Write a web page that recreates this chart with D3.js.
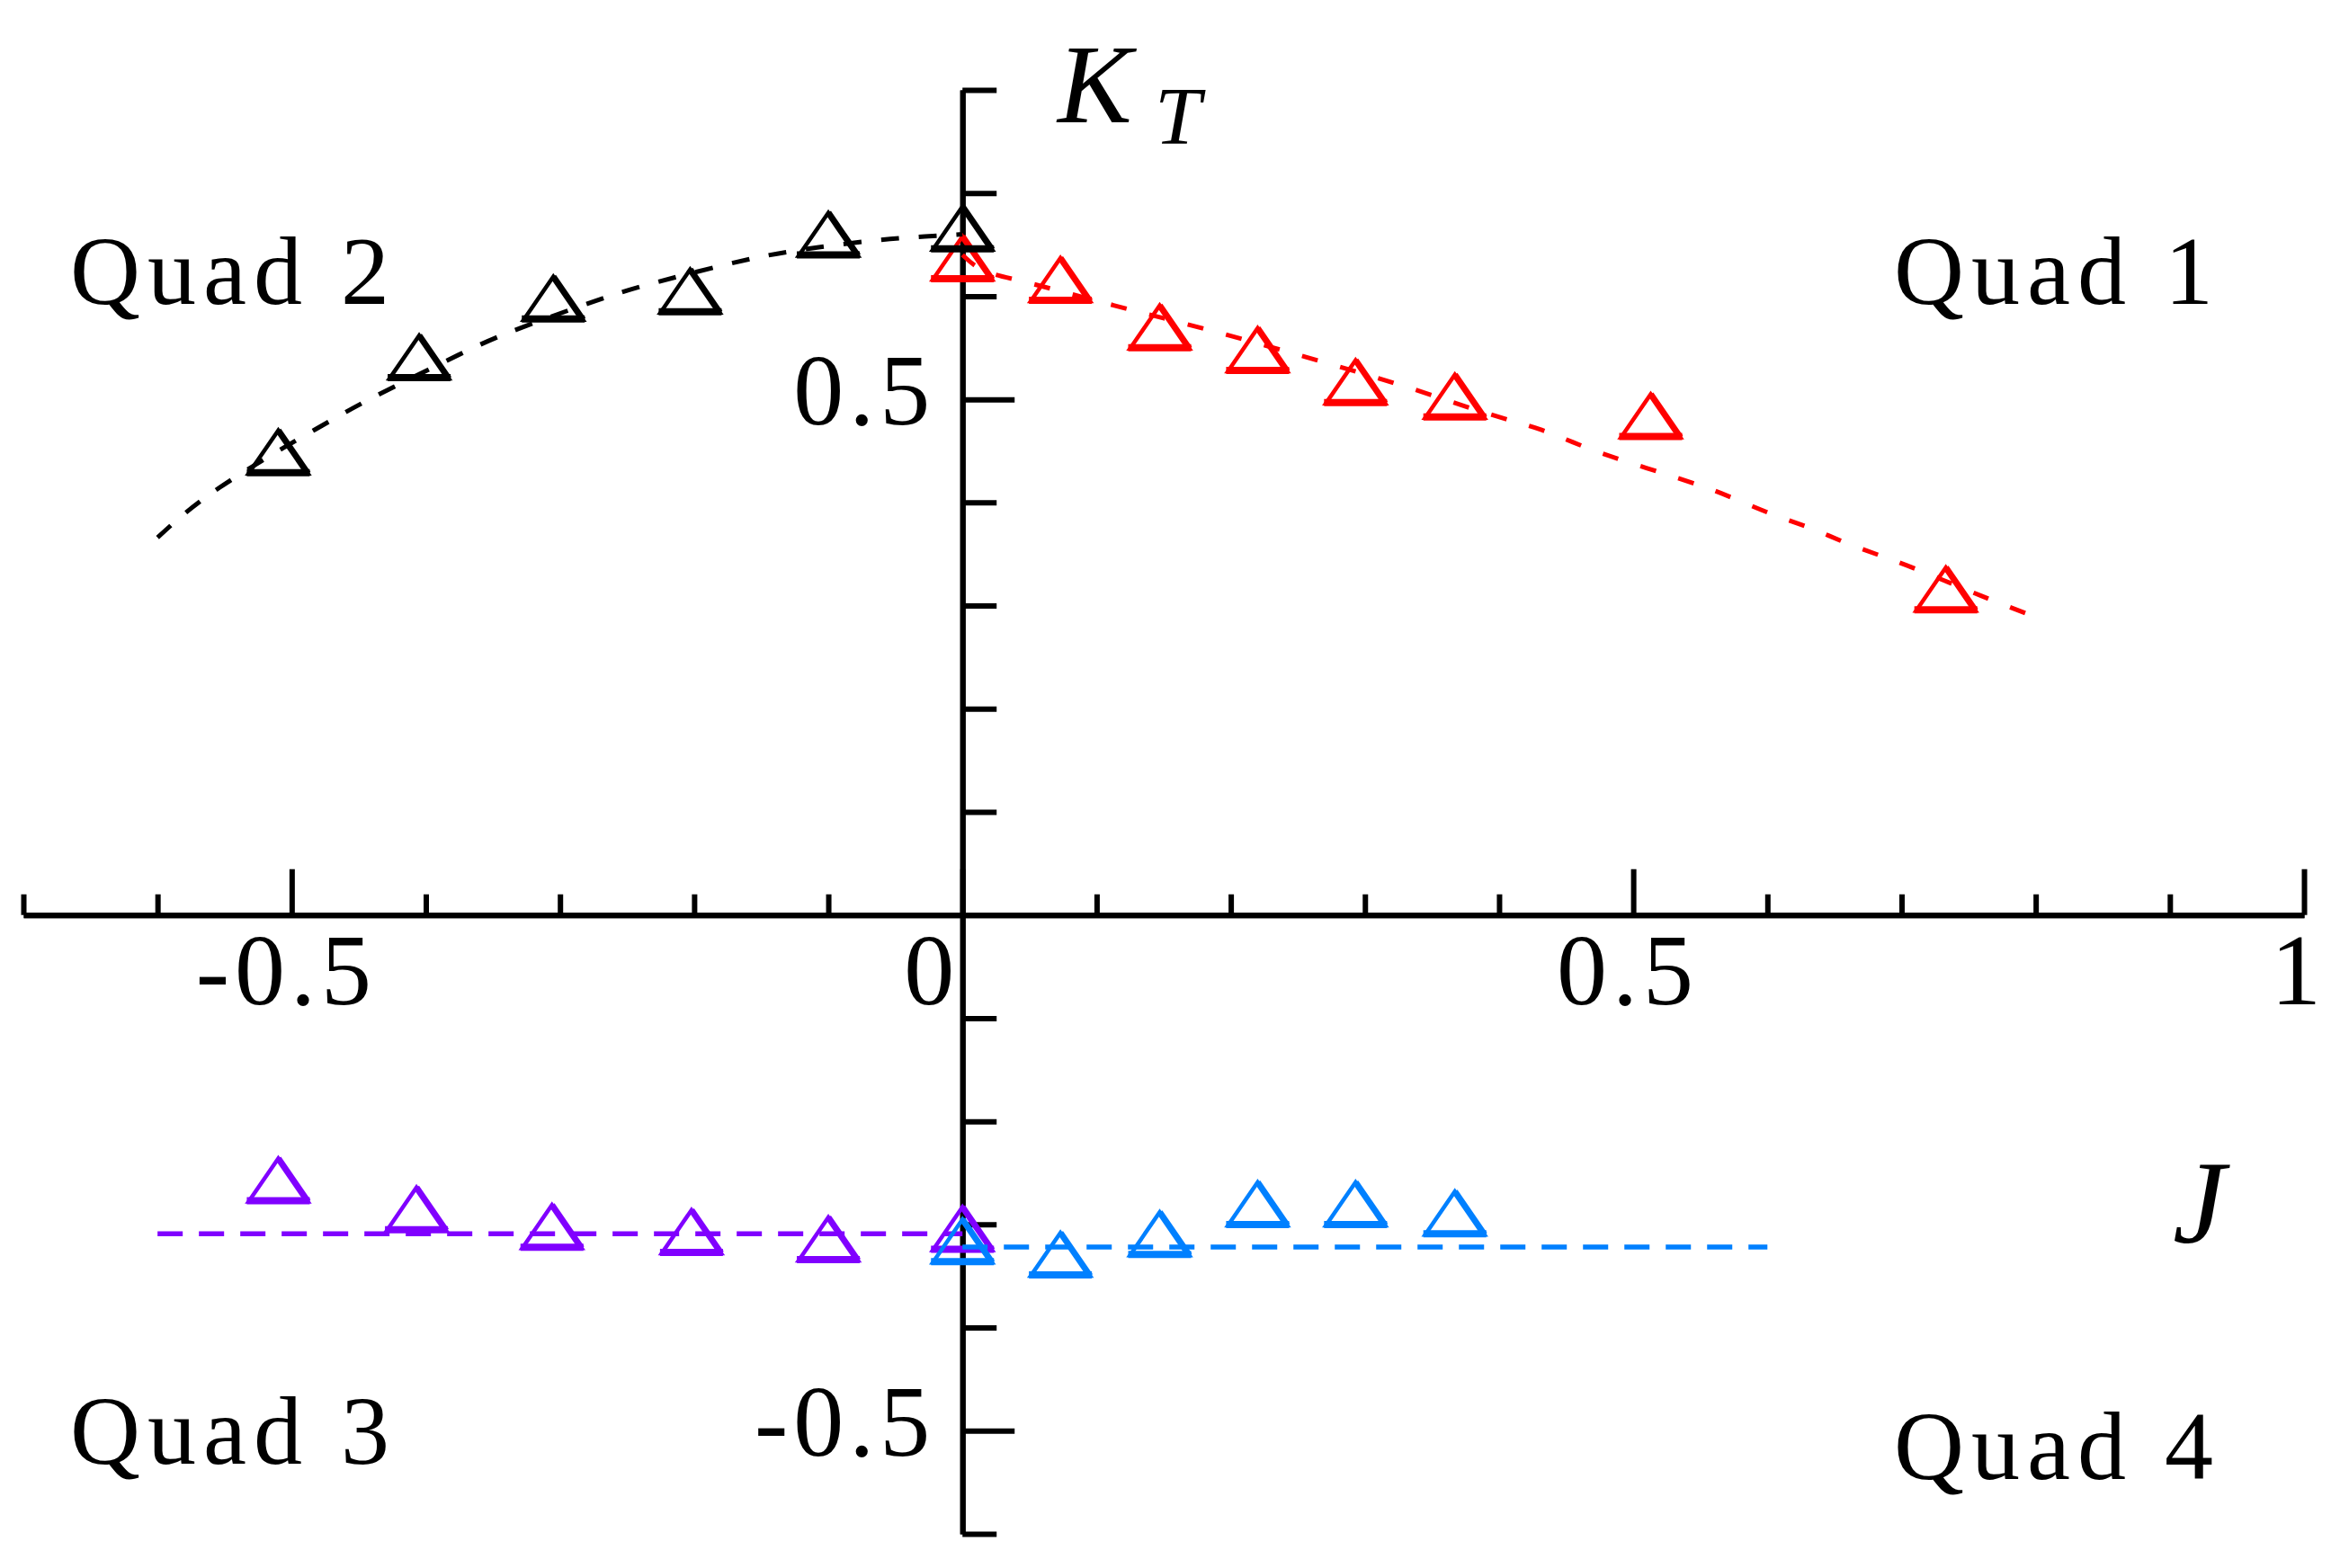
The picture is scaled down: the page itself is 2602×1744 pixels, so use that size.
<!DOCTYPE html>
<html>
<head>
<meta charset="utf-8">
<script src="https://cdn.jsdelivr.net/npm/d3@7"></script>
<style>
  html, body { margin: 0; padding: 0; background: #fff; }
  svg { display: block; }
  text { font-family: "Liberation Serif", "Times New Roman", serif; fill: #000; }
</style>
</head>
<body>
<svg id="chart" width="2602" height="1744"></svg>
<script>
// ---- data ----
// Quad 1 (red): measured points and fitted curve
const q1J = [0, 0.073, 0.147, 0.22, 0.293, 0.367, 0.513, 0.733];
const q1K = [0.637, 0.616, 0.570, 0.548, 0.517, 0.503, 0.484, 0.316];
const q1CurveJ = [0, 0.014, 0.042, 0.112, 0.186, 0.256, 0.326, 0.392, 0.431, 0.462, 0.496, 0.535, 0.565, 0.601, 0.634, 0.664, 0.698, 0.765, 0.8];
const q1CurveK = [0.64, 0.623, 0.616, 0.591, 0.567, 0.541, 0.515, 0.485, 0.472, 0.454, 0.439, 0.423, 0.410, 0.389, 0.375, 0.357, 0.343, 0.306, 0.289];

// Quad 2 (black)
const q2J = [-0.51, -0.405, -0.305, -0.203, -0.1, 0];
const q2K = [0.449, 0.541, 0.598, 0.605, 0.660, 0.666];
const q2CurveJ = [-0.6, -0.562, -0.473, -0.443, -0.379, -0.346, -0.275, -0.243, -0.17, -0.134, -0.064, -0.026, 0];
const q2CurveK = [0.366, 0.411, 0.478, 0.500, 0.541, 0.562, 0.595, 0.609, 0.633, 0.643, 0.655, 0.658, 0.66];

// Quad 3 (purple)
const q3J = [-0.51, -0.407, -0.306, -0.202, -0.1, 0];
const q3K = [-0.257, -0.285, -0.302, -0.307, -0.314, -0.304];
const q3LineJ = [-0.6, 0];
const q3LineK = [-0.309, -0.309];

// Quad 4 (blue)
const q4J = [0, 0.073, 0.147, 0.22, 0.293, 0.367];
const q4K = [-0.316, -0.329, -0.309, -0.280, -0.280, -0.289];
const q4LineJ = [0, 0.6];
const q4LineK = [-0.322, -0.322];

// axes
const xMajor = [-0.5, 0, 0.5, 1];
const xMinor = [-0.7, -0.6, -0.4, -0.3, -0.2, -0.1, 0.1, 0.2, 0.3, 0.4, 0.6, 0.7, 0.8, 0.9];
const xLabels = ["-0.5", "0", "0.5", "1"];
const yMajor = [-0.5, 0.5];
const yMinor = [-0.6, -0.4, -0.3, -0.2, -0.1, 0.1, 0.2, 0.3, 0.4, 0.6, 0.7, 0.8];
const yLabels = ["-0.5", "0.5"];

const quadNames = ["Quad 1", "Quad 2", "Quad 3", "Quad 4"];

// ---- drawing ----
const svg = d3.select("#chart");

const x = d3.scaleLinear().domain([-0.7, 1]).range([26, 2562]);
const y = d3.scaleLinear().domain([-0.6, 0.8]).range([1706, 100]);

// x axis (ticks point up), drawn at K = 0
const xAxisG = svg.append("g").attr("transform", `translate(0,${y(0)})`);
xAxisG.append("g")
    .call(d3.axisTop(x).tickValues(xMinor).tickSize(23).tickSizeOuter(0).tickFormat(""));
xAxisG.append("g")
    .call(d3.axisTop(x).tickValues(xMajor).tickSize(51).tickSizeOuter(0).tickFormat(""));
xAxisG.selectAll("path.domain").attr("stroke", "#000").attr("stroke-width", 6);
xAxisG.selectAll(".tick line").attr("stroke", "#000").attr("stroke-width", 6);

// y axis (ticks point right), drawn at J = 0
const yAxisG = svg.append("g").attr("transform", `translate(${x(0)},0)`);
yAxisG.append("g")
    .call(d3.axisRight(y).tickValues(yMinor).tickSize(38).tickSizeOuter(0).tickFormat(""));
yAxisG.append("g")
    .call(d3.axisRight(y).tickValues(yMajor).tickSize(58).tickSizeOuter(0).tickFormat(""));
yAxisG.selectAll("path.domain").attr("stroke", "#000").attr("stroke-width", 6);
yAxisG.selectAll(".tick line").attr("stroke", "#000").attr("stroke-width", 6);

// tick labels
svg.append("g").selectAll("text")
    .data(xMajor)
    .join("text")
    .attr("x", (d, i) => d === 0 ? x(d) - 34 : x(d) - 6)
    .attr("y", 1117)
    .attr("text-anchor", "middle")
    .attr("font-size", 112)
    .attr("letter-spacing", 6)
    .text((d, i) => xLabels[i]);

svg.append("g").selectAll("text")
    .data(yMajor)
    .join("text")
    .attr("x", x(0) - 30)
    .attr("y", d => y(d) + 28)
    .attr("text-anchor", "end")
    .attr("font-size", 112)
    .attr("letter-spacing", 6)
    .text((d, i) => yLabels[i]);

// axis titles
const kt = svg.append("text")
    .attr("x", 1176)
    .attr("y", 136)
    .attr("font-style", "italic")
    .attr("font-size", 124);
kt.append("tspan").text("K");
kt.append("tspan")
    .attr("x", 1284)
    .attr("y", 160)
    .attr("font-size", 92)
    .text("T");

svg.append("text")
    .attr("x", 2416)
    .attr("y", 1382)
    .attr("font-style", "italic")
    .attr("font-size", 132)
    .text("J");

// quadrant labels
const quadPos = [[2106, 338], [78, 338], [78, 1628], [2106, 1645]];
svg.append("g").selectAll("text")
    .data(quadNames)
    .join("text")
    .attr("x", (d, i) => quadPos[i][0])
    .attr("y", (d, i) => quadPos[i][1])
    .attr("font-size", 108)
    .attr("letter-spacing", 8)
    .text(d => d);

// series
const series = [
    { color: "#ff0000", pj: q1J, pk: q1K, lj: q1CurveJ, lk: q1CurveK, dash: "18,26", width: 5, curve: d3.curveBasis },
    { color: "#000000", pj: q2J, pk: q2K, lj: q2CurveJ, lk: q2CurveK, dash: "20,22", width: 5, curve: d3.curveBasis },
    { color: "#8000ff", pj: q3J, pk: q3K, lj: q3LineJ, lk: q3LineK, dash: "28,18", width: 5.5, curve: d3.curveLinear },
    { color: "#0080ff", pj: q4J, pk: q4K, lj: q4LineJ, lk: q4LineK, dash: "28,18", width: 5.5, curve: d3.curveLinear }
];

// triangle marker (open delta), half width / half height in px
const tw = 33, th = 24;
const triPath = `M${-tw},${th}L0,${-th}L${tw},${th}Z`;

series.forEach(s => {
    const line = d3.line()
        .x(d => x(d[0]))
        .y(d => y(d[1]))
        .curve(s.curve);

    svg.append("path")
        .datum(d3.zip(s.lj, s.lk))
        .attr("d", line)
        .attr("fill", "none")
        .attr("stroke", s.color)
        .attr("stroke-width", s.width)
        .attr("stroke-dasharray", s.dash);

    const marks = svg.append("g").selectAll("g")
        .data(d3.zip(s.pj, s.pk))
        .join("g")
        .attr("transform", d => `translate(${x(d[0])},${y(d[1])})`);

    marks.append("path")
        .attr("d", triPath)
        .attr("fill", "none")
        .attr("stroke", s.color)
        .attr("stroke-width", 4.5)
        .attr("stroke-linejoin", "miter");

    // heavier right side and base, as in the Times delta glyph
    marks.append("path")
        .attr("d", `M0,${-th}L${tw},${th}`)
        .attr("stroke", s.color)
        .attr("stroke-width", 7);
    marks.append("line")
        .attr("x1", -tw - 2).attr("x2", tw + 2)
        .attr("y1", th - 1).attr("y2", th - 1)
        .attr("stroke", s.color)
        .attr("stroke-width", 8);
});
</script>
</body>
</html>
